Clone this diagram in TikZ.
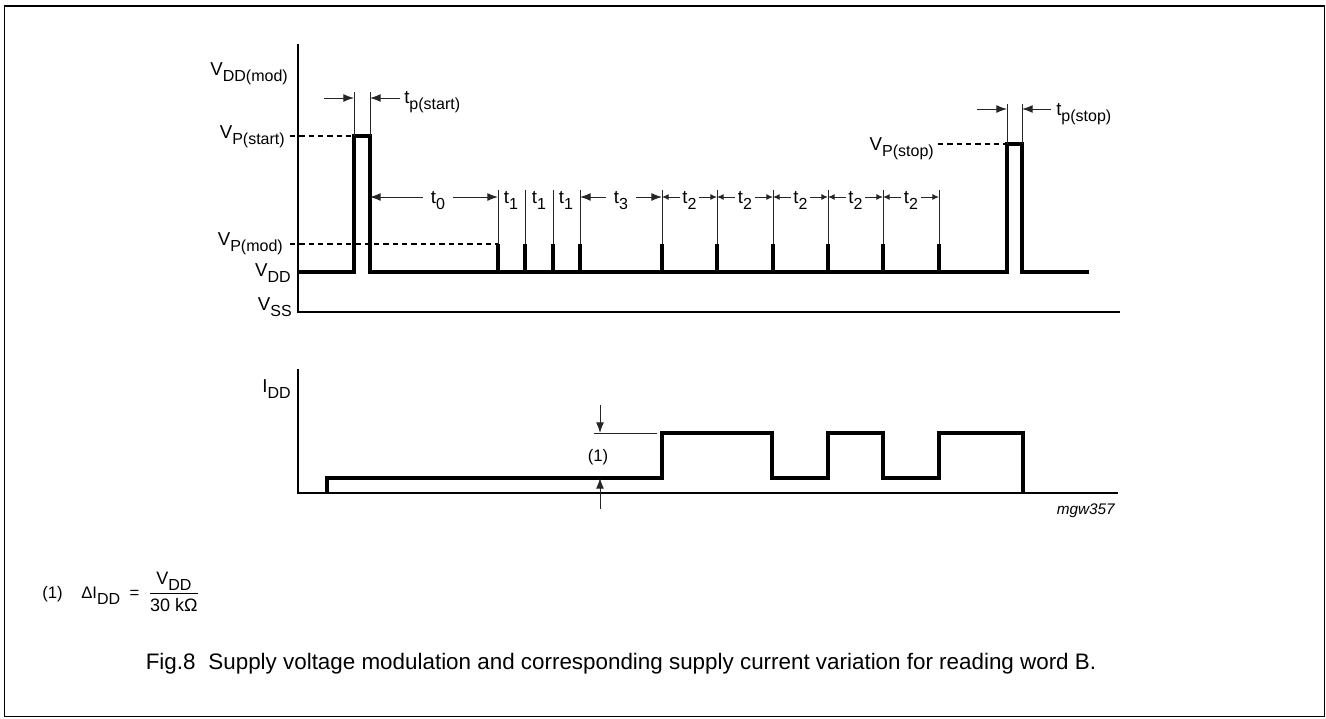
\documentclass[tikz,border=0pt]{standalone}
\usepackage{fontspec}
\setmainfont{Liberation Sans}
\usepackage{amsmath}
\usepackage{tikz}
\usetikzlibrary{arrows.meta, positioning}

% subscript in the data sheet manner
\newcommand{\dsub}[1]{\raisebox{-4.5pt}{\fontsize{12}{12}\selectfont #1}}

\tikzset{
    wave/.style={line width=2.4pt, line join=miter},
    axisline/.style={line width=1.1pt},
    thinline/.style={line width=0.75pt, black!85},
    levelline/.style={line width=0.8pt, dash pattern=on 4pt off 3pt},
    dimarrow/.style={thinline, -{Latex[length=8pt, width=6pt]}},
    dimsmall/.style={thinline, -{Latex[length=5pt, width=4.5pt]}},
    lbl/.style={font=\fontsize{14}{16}\selectfont, inner sep=0pt},
    note/.style={font=\fontsize{12.5}{14}\selectfont, inner sep=0pt}
}

\begin{document}
\begin{tikzpicture}[x=0.75pt, y=-0.75pt]
    \useasboundingbox (0,0) rectangle (1326,718);
    % Frame
    \draw[line width=1.3pt] (4.5,6) rectangle (1324.5,716.5);

    % Voltage axes
    \draw[axisline] (298,44) -- (298,312) -- (1120,312);
    \node[lbl, anchor=base east] (vddmod) at (288,75) {V\dsub{DD(mod)}};
    \node[lbl, anchor=base east] (vpstart) at (285,138) {V\dsub{P(start)}};
    \node[lbl, anchor=base east] (vpmod) at (283,245) {V\dsub{P(mod)}};
    \node[lbl, anchor=base east] (vdd) at (291,276) {V\dsub{DD}};
    \node[lbl, anchor=base east] (vss) at (292,310) {V\dsub{SS}};

    % Start pulse and supply level
    \coordinate (sa) at (354,272);
    \coordinate (sb) at (370,272);
    \coordinate (ea) at (1007,272);
    \coordinate (eb) at (1022,272);
    \draw[wave] (298,272) -- (sa) -- (354,136) -- (370,136) -- (sb) -- (ea)
        -- (1007,144) -- (1022,144) -- (eb) -- (1089,272);

    % Modulation pulses
    \foreach \x [count=\i] in {498,525,553,580,662,717,773,828,883,939} {
        \coordinate (p\i) at (\x,272);
        \draw[wave] (p\i) -- ++(0,-28);
        \draw[thinline] (\x,244) -- (\x,190);
    }

    % Levels
    \draw[levelline] (290,136) -- (354,136);
    \draw[levelline] (290,244) -- (498,244);
    \node[lbl, anchor=base east] (vpstop) at (934,150) {V\dsub{P(stop)}};
    \draw[levelline] (938,144) -- (1007,144);

    % Pulse widths
    \draw[thinline] (354,136) -- (354,92);
    \draw[thinline] (370,136) -- (370,92);
    \draw[dimarrow] (324,98) -- (354,98);
    \draw[dimarrow] (400,98) -- (370,98);
    \node[lbl, anchor=base west] (tpstart) at (404,103) {t\dsub{p(start)}};
    \draw[thinline] (1007,144) -- (1007,104);
    \draw[thinline] (1022,144) -- (1022,104);
    \draw[dimarrow] (977,109) -- (1007,109);
    \draw[dimarrow] (1051,109) -- (1022,109);
    \node[lbl, anchor=base west] (tpstop) at (1056,115) {t\dsub{p(stop)}};

    % Timing
    \coordinate (trow) at (0,197);
    \node[lbl, anchor=base] (t0) at (438,203) {t\dsub{0}};
    \draw[dimarrow] ([xshift=-6]t0.west |- trow) -- (sb |- trow);
    \draw[dimarrow] ([xshift=6]t0.east |- trow) -- (p1 |- trow);
    \node[lbl, anchor=base] (ta) at (511,203) {t\dsub{1}};
    \node[lbl, anchor=base] (tb) at (539,203) {t\dsub{1}};
    \node[lbl, anchor=base] (tc) at (566,203) {t\dsub{1}};
    \node[lbl, anchor=base] (t3) at (621,203) {t\dsub{3}};
    \draw[dimarrow] ([xshift=-6]t3.west |- trow) -- (p4 |- trow);
    \draw[dimarrow] ([xshift=6]t3.east |- trow) -- (p5 |- trow);
    \foreach \a/\b/\m [count=\k] in {5/6/689.5,6/7/745,7/8/800.5,8/9/855.5,9/10/911} {
        \node[lbl, anchor=base] (tt\k) at (\m,203) {t\dsub{2}};
        \draw[dimsmall] ([xshift=-2]tt\k.west |- trow) -- (p\a |- trow);
        \draw[dimsmall] ([xshift=2]tt\k.east |- trow) -- (p\b |- trow);
    }

    % Current axes
    \draw[axisline] (298,369) -- (298,493) -- (1118,493);
    \node[lbl, anchor=base east] (idd) at (291,392) {I\dsub{DD}};
    \draw[wave] (327,493) -- (327,478) -- (662,478) -- (662,433) -- (772,433)
        -- (772,478) -- (828,478) -- (828,433) -- (883,433) -- (883,478)
        -- (939,478) -- (939,433) -- (1023,433) -- (1023,493);

    % Current step
    \draw[thinline] (594,433) -- (657,433);
    \draw[dimarrow] (600,405) -- (600,433);
    \draw[dimarrow] (600,509) -- (600,478);
    \node[note] (one) at (598,457) {(1)};
    \node[font=\fontsize{11.5}{13}\selectfont\itshape, inner sep=0pt, anchor=base east]
        (code) at (1115,514) {mgw357};

    % Note and caption
    \node[note, anchor=base west] (fn) at (42,598)
        {(1)\hspace{14pt}ΔI\dsub{DD}\hspace{7pt}=\hspace{7pt}{\fontsize{13.5}{15}\selectfont$\dfrac{\hbox{V\dsub{DD}}}{\hbox{30 kΩ}}$}};
    \node[font=\fontsize{16.8}{19}\selectfont, inner sep=0pt, anchor=base] (cap) at (621,669)
        {Fig.8\hspace{5pt} Supply voltage modulation and corresponding supply current variation for reading word B.};
\end{tikzpicture}
\end{document}
